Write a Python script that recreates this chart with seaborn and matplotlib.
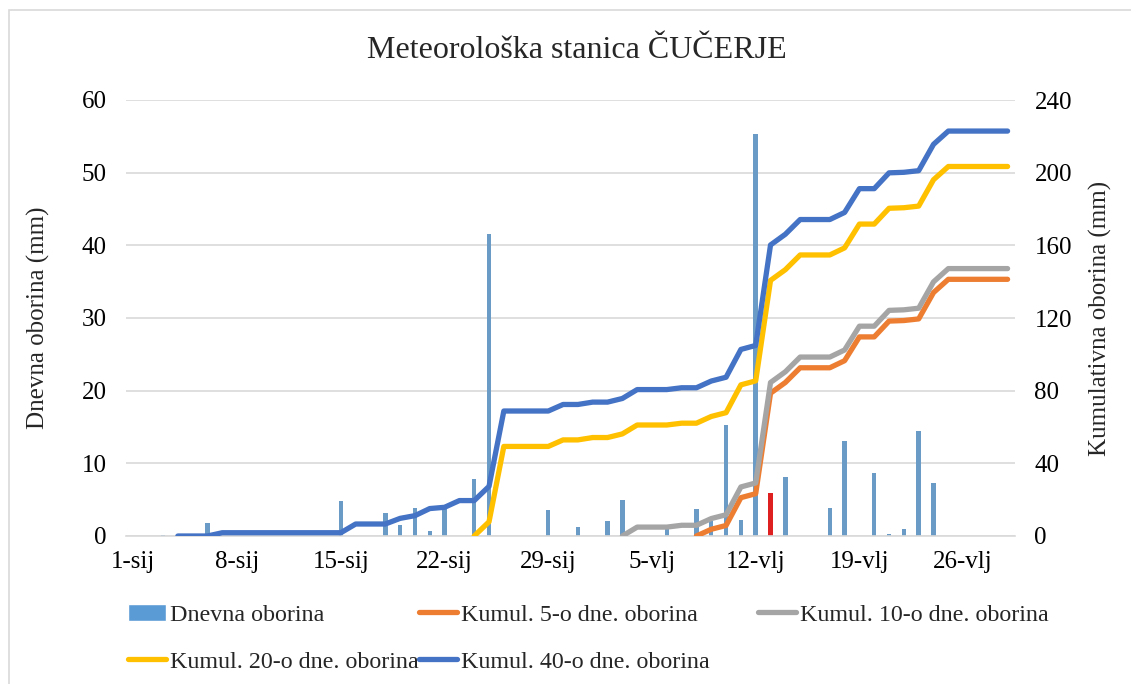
import numpy as np
import pandas as pd
import matplotlib
matplotlib.use("Agg")
import matplotlib.pyplot as plt
import seaborn as sns
from matplotlib.lines import Line2D
from matplotlib.patches import Patch, Rectangle

sns.set_theme(style="white")
plt.rcParams["font.family"] = ["Liberation Serif", "DejaVu Serif"]

# ---------------- data ----------------
n_days = 60  # 1-sij .. 1-ožu
tick_days = [0, 7, 14, 21, 28, 35, 42, 49, 56]
tick_labels = ["1-sij", "8-sij", "15-sij", "22-sij", "29-sij",
               "5-vlj", "12-vlj", "19-vlj", "26-vlj"]

rain_days = [2, 5, 14, 17, 18, 19, 20, 21, 23, 24, 28, 30, 32, 33, 36,
             38, 39, 40, 41, 42, 43, 44, 47, 48, 50, 51, 52, 53, 54]
rain_mm = [0.2, 1.8, 4.8, 3.1, 1.5, 3.9, 0.7, 3.7, 7.8, 41.5, 3.6, 1.3, 2.0, 4.9, 1.0,
           3.7, 2.1, 15.3, 2.2, 55.3, 5.9, 8.1, 3.9, 13.1, 8.7, 0.25, 0.9, 14.5, 7.3]
highlight_day = 43

cum5_start = 38
cum5 = [0, 3.7, 5.8, 21.1, 23.3, 78.6, 84.5, 92.6, 92.6, 92.6, 96.5, 109.6, 109.6,
        118.3, 118.6, 119.5, 134.0, 141.3, 141.3, 141.3, 141.3, 141.3]
cum10_start = 33
cum10 = [0, 4.9, 4.9, 4.9, 5.9, 5.9, 9.6, 11.7, 27.0, 29.2, 84.5, 90.4, 98.5, 98.5,
         98.5, 102.4, 115.5, 115.5, 124.2, 124.5, 125.4, 139.9, 147.2, 147.2, 147.2,
         147.2, 147.2]
cum20_start = 23
cum20 = [0, 7.8, 49.3, 49.3, 49.3, 49.3, 52.9, 52.9, 54.2, 54.2, 56.2, 61.1, 61.1,
         61.1, 62.1, 62.1, 65.8, 67.9, 83.2, 85.4, 140.7, 146.6, 154.7, 154.7, 154.7,
         158.6, 171.7, 171.7, 180.4, 180.7, 181.6, 196.1, 203.4, 203.4, 203.4, 203.4,
         203.4]
cum40_start = 3
cum40 = [0, 0, 0, 1.8, 1.8, 1.8, 1.8, 1.8, 1.8, 1.8, 1.8, 1.8, 6.6, 6.6, 6.6, 9.7,
         11.2, 15.1, 15.8, 19.5, 19.5, 27.3, 68.8, 68.8, 68.8, 68.8, 72.4, 72.4, 73.7,
         73.7, 75.7, 80.6, 80.6, 80.6, 81.6, 81.6, 85.3, 87.4, 102.7, 104.9, 160.2,
         166.1, 174.2, 174.2, 174.2, 178.1, 191.2, 191.2, 199.9, 200.2, 201.1, 215.6,
         222.9, 222.9, 222.9, 222.9, 222.9]

series_names = ["Dnevna oborina", "Kumul. 5-o dne. oborina", "Kumul. 10-o dne. oborina",
                "Kumul. 20-o dne. oborina", "Kumul. 40-o dne. oborina"]

# ---------------- styling ----------------
c_bar = "#5B9BD5"
c_hi = "#FF0000"
c5, c10, c20, c40 = "#ED7D31", "#A5A5A5", "#FFC000", "#4472C4"
grid_c = "#D9D9D9"
fs = 18
fs_leg = 17.3
lw = 3.8

daily = np.zeros(n_days)
daily[rain_days] = rain_mm
df = pd.DataFrame({
    "day": np.arange(n_days),
    "mm": daily,
    "grp": ["h" if d == highlight_day else "n" for d in range(n_days)],
})

fig = plt.figure(figsize=(11.31, 6.84), dpi=100)
fig.patches.append(Rectangle((9 / 1131, -0.1), 1.2, 1 - 10 / 684 + 0.1,
                             transform=fig.transFigure, fill=False,
                             edgecolor=grid_c, lw=1.2))

ax = fig.add_axes([126 / 1131, 1 - 536 / 684, (1015 - 126) / 1131, (536 - 100) / 684])
sns.barplot(data=df, x="day", y="mm", hue="grp", palette={"n": c_bar, "h": c_hi},
            dodge=False, native_scale=True, width=0.3, errorbar=None,
            legend=False, ax=ax, zorder=2, linewidth=0)

ax2 = ax.twinx()
for start, vals, col in [(cum5_start, cum5, c5), (cum10_start, cum10, c10),
                         (cum20_start, cum20, c20), (cum40_start, cum40, c40)]:
    sns.lineplot(x=np.arange(start, start + len(vals)), y=vals, color=col, lw=lw,
                 solid_capstyle="round", solid_joinstyle="round", ax=ax2)

ax.set_xlim(-0.5, n_days - 0.5)
ax.set_ylim(0, 60)
ax2.set_ylim(0, 240)
ax.set_yticks(range(0, 61, 10))
ax2.set_yticks(range(0, 241, 40))
ax.set_xticks(tick_days)
ax.set_xticklabels(tick_labels)

ax.grid(axis="y", color=grid_c, lw=1.2)
ax.grid(axis="x", visible=False)
ax2.grid(False)
ax.set_axisbelow(True)
for s in ["top", "left", "right"]:
    ax.spines[s].set_visible(False)
ax.spines["bottom"].set_color(grid_c)
ax.spines["bottom"].set_linewidth(1.2)
for s in ax2.spines.values():
    s.set_visible(False)

ax.tick_params(axis="both", length=0, labelsize=fs, colors="black")
ax.tick_params(axis="y", pad=14)
ax.tick_params(axis="x", pad=11)
ax2.tick_params(axis="y", length=0, labelsize=fs, pad=14, colors="black")

ax.set_xlabel("")
ax.set_ylabel("Dnevna oborina (mm)", fontsize=fs)
ax2.set_ylabel("Kumulativna oborina (mm)", fontsize=fs)
ax.yaxis.set_label_coords(-0.085, 0.5)
ax2.yaxis.set_label_coords(1.083, 0.5)

fig.text(577 / 1131, 1 - 50 / 684, "Meteorološka stanica ČUČERJE",
         ha="center", va="center", fontsize=23)

def lh(c):
    return Line2D([0], [0], color=c, lw=lw, solid_capstyle="round")

handles = {
    series_names[0]: Patch(facecolor=c_bar),
    series_names[1]: lh(c5),
    series_names[2]: lh(c10),
    series_names[3]: lh(c20),
    series_names[4]: lh(c40),
}
columns = [([series_names[0], series_names[3]], 128),
           ([series_names[1], series_names[4]], 419),
           ([series_names[2]], 758)]
leg_kw = dict(loc="upper left", frameon=False, fontsize=fs_leg, handlelength=1.6,
              handleheight=0.7, handletextpad=0.15, labelspacing=1.05,
              borderpad=0, borderaxespad=0)
for names, xpix in columns:
    fig.legend([handles[k] for k in names], names,
               bbox_to_anchor=(xpix / 1131, 1 - 604 / 684), **leg_kw)

fig.savefig("out.png", dpi=100)
